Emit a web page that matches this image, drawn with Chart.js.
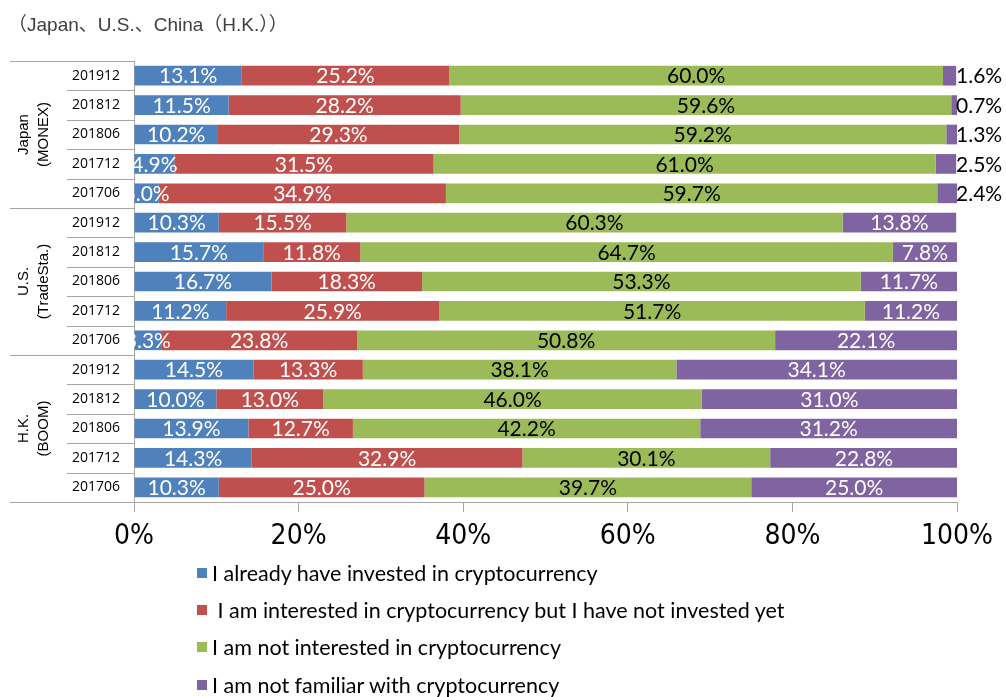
<!DOCTYPE html>
<html>
<head>
<meta charset="utf-8">
<script src="https://cdn.jsdelivr.net/npm/chart.js@4.4.1/dist/chart.umd.min.js"></script>
<style>
  body { margin: 0; background: #fff; }
  #wrap { position: relative; width: 1006px; height: 697px; }
  #title { position: absolute; left: 8px; top: 9px; font: 19px "Liberation Sans", "Noto Sans CJK JP", sans-serif; color: #404040; white-space: nowrap; }
  #legend { position: absolute; left: 197px; top: 554px; font: 21.5px Lato, sans-serif; color: #000; }
  #legend .item { height: 37.4px; display: flex; align-items: center; white-space: pre; }
  #legend .box { width: 10px; height: 10px; margin-right: 5px; }
</style>
</head>
<body>
<div id="wrap">
  <canvas id="c" width="1006" height="697"></canvas>
  <div id="title">（Japan、U.S.、China（H.K.））</div>
  <div id="legend"></div>
</div>
<script>
const years = ['201912', '201812', '201806', '201712', '201706',
               '201912', '201812', '201806', '201712', '201706',
               '201912', '201812', '201806', '201712', '201706'];
const groups = [['Japan', '(MONEX)'], ['U.S.', '(TradeSta.)'], ['H.K.', '(BOOM)']];
const seriesNames = [
  'I already have invested in cryptocurrency',
  ' I am interested in cryptocurrency but I have not invested yet',
  'I am not interested in cryptocurrency',
  'I am not familiar with cryptocurrency'
];
const invested =      [13.1, 11.5, 10.2, 4.9, 3.0, 10.3, 15.7, 16.7, 11.2, 3.3, 14.5, 10.0, 13.9, 14.3, 10.3];
const interested =    [25.2, 28.2, 29.3, 31.5, 34.9, 15.5, 11.8, 18.3, 25.9, 23.8, 13.3, 13.0, 12.7, 32.9, 25.0];
const notInterested = [60.0, 59.6, 59.2, 61.0, 59.7, 60.3, 64.7, 53.3, 51.7, 50.8, 38.1, 46.0, 42.2, 30.1, 39.7];
const notFamiliar =   [1.6, 0.7, 1.3, 2.5, 2.4, 13.8, 7.8, 11.7, 11.2, 22.1, 34.1, 31.0, 31.2, 22.8, 25.0];
const xTicks = [0, 20, 40, 60, 80, 100];

const colors = ['#4f81bd', '#c0504d', '#9bbb59', '#8064a2'];
const lineColor = '#a6a6a6';

// legend as html
const legendEl = document.getElementById('legend');
seriesNames.forEach((name, i) => {
  const row = document.createElement('div');
  row.className = 'item';
  row.innerHTML = '<span class="box" style="background:' + colors[i] + '"></span><span></span>';
  row.lastChild.textContent = name;
  legendEl.appendChild(row);
});

const segLabels = {
  id: 'segLabels',
  afterDatasetsDraw(chart) {
    const { ctx, chartArea: a } = chart;
    ctx.save();
    ctx.font = '21px Lato, sans-serif';
    ctx.textBaseline = 'middle';
    chart.data.datasets.forEach((ds, di) => {
      chart.getDatasetMeta(di).data.forEach((bar, i) => {
        const txt = ds.data[i].toFixed(1) + '%';
        if (di === 3 && i < 5) {
          // Japan: tiny purple slice, label sits outside
          ctx.fillStyle = '#000';
          ctx.textAlign = 'left';
          ctx.fillText(txt, a.right - 1, bar.y + 1);
          return;
        }
        ctx.save();
        ctx.beginPath();
        ctx.rect(a.left, a.top, a.right - a.left, a.bottom - a.top);
        ctx.clip();
        ctx.fillStyle = di === 2 ? '#000' : '#fff';
        ctx.textAlign = 'center';
        ctx.fillText(txt, (bar.x + bar.base) / 2, bar.y + 1);
        ctx.restore();
      });
    });
    ctx.restore();
  }
};

const leftTable = {
  id: 'leftTable',
  afterDraw(chart) {
    const { ctx } = chart;
    const y = chart.scales.y;
    const a = chart.chartArea;
    ctx.save();
    ctx.strokeStyle = lineColor;
    ctx.lineWidth = 1;
    const n = years.length;
    for (let k = 0; k <= n; k++) {
      let py;
      if (k === 0) py = a.top;
      else if (k === n) py = a.bottom;
      else py = (y.getPixelForTick(k - 1) + y.getPixelForTick(k)) / 2;
      py = Math.round(py) + 0.5;
      ctx.beginPath();
      ctx.moveTo(k % 5 === 0 ? 10 : 67, py);
      ctx.lineTo(a.left, py);
      ctx.stroke();
    }
    // group names, rotated
    ctx.fillStyle = '#000';
    ctx.font = '15px "Liberation Sans", sans-serif';
    ctx.textAlign = 'center';
    ctx.textBaseline = 'middle';
    groups.forEach((g, gi) => {
      const cy = (y.getPixelForTick(gi * 5) + y.getPixelForTick(gi * 5 + 4)) / 2;
      ctx.save();
      ctx.translate(24, cy);
      ctx.rotate(-Math.PI / 2);
      ctx.fillText(g[0], 0, 0);
      ctx.fillText(g[1], 0, 20);
      ctx.restore();
    });
    ctx.restore();
  }
};

new Chart(document.getElementById('c'), {
  type: 'bar',
  data: {
    labels: years,
    datasets: [
      { label: seriesNames[0], data: invested, backgroundColor: colors[0] },
      { label: seriesNames[1], data: interested, backgroundColor: colors[1] },
      { label: seriesNames[2], data: notInterested, backgroundColor: colors[2] },
      { label: seriesNames[3], data: notFamiliar, backgroundColor: colors[3] }
    ]
  },
  options: {
    indexAxis: 'y',
    responsive: false,
    animation: false,
    barPercentage: 0.67,
    categoryPercentage: 1,
    layout: { padding: { top: 61, right: 49, bottom: 135, left: 0 } },
    plugins: {
      legend: { display: false },
      tooltip: { enabled: false }
    },
    scales: {
      x: {
        stacked: true,
        min: 0,
        max: 100,
        afterBuildTicks: s => { s.ticks = xTicks.map(v => ({ value: v })); },
        afterFit: s => { s.height = 60; },
        ticks: {
          callback: v => v + '%',
          color: '#000',
          padding: 8,
          font: { family: '"Liberation Sans Narrow", "DejaVu Sans Condensed", sans-serif', size: 28 }
        },
        grid: { drawOnChartArea: false, tickLength: 10, color: lineColor },
        border: { color: lineColor }
      },
      y: {
        stacked: true,
        afterFit: s => { s.width = 134; },
        ticks: {
          color: '#000',
          crossAlign: 'center',
          padding: 14,
          font: { family: '"Open Sans", sans-serif', size: 14 }
        },
        grid: { display: false, drawTicks: false },
        border: { display: true, color: lineColor }
      }
    }
  },
  plugins: [segLabels, leftTable]
});
</script>
</body>
</html>
